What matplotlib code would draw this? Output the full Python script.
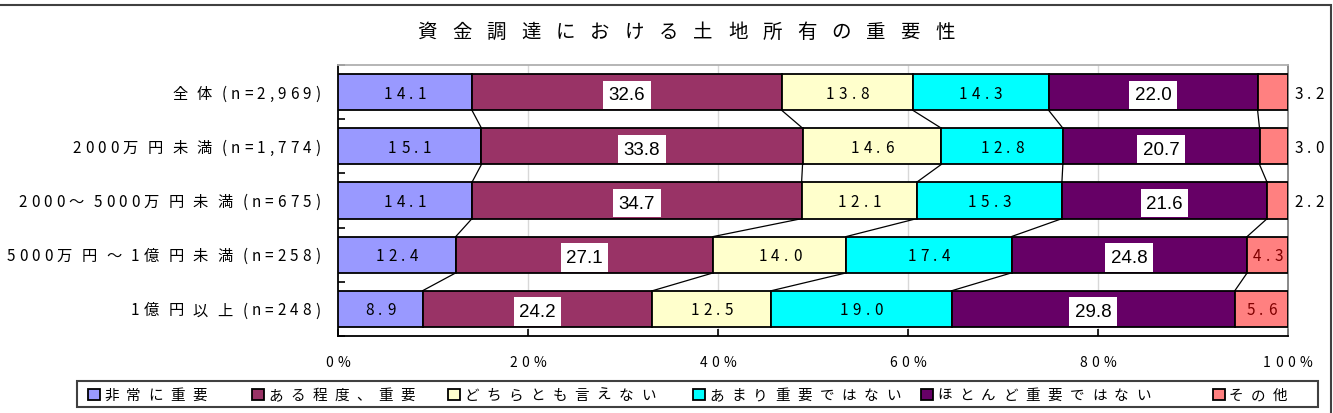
import matplotlib
matplotlib.use("Agg")
import matplotlib.pyplot as plt
from matplotlib.patches import Rectangle
from matplotlib.transforms import IdentityTransform
import numpy as np

plt.rcParams["font.family"] = ["Noto Sans CJK JP", "DejaVu Sans"]

TITLE = "資金調達における土地所有の重要性"
GROUPS = [
    "全体(n=2,969)",
    "2000万円未満(n=1,774)",
    "2000～5000万円未満(n=675)",
    "5000万円～1億円未満(n=258)",
    "1億円以上(n=248)",
]
SERIES = ["非常に重要", "ある程度、重要", "どちらとも言えない",
          "あまり重要ではない", "ほとんど重要ではない", "その他"]

VERY = [14.1, 15.1, 14.1, 12.4, 8.9]
SOMEWHAT = [32.6, 33.8, 34.7, 27.1, 24.2]
NEUTRAL = [13.8, 14.6, 12.1, 14.0, 12.5]
NOT_VERY = [14.3, 12.8, 15.3, 17.4, 19.0]
HARDLY = [22.0, 20.7, 21.6, 24.8, 29.8]
OTHER = [3.2, 3.0, 2.2, 4.3, 5.6]

X_TICKS = [0, 20, 40, 60, 80, 100]
COLORS = ["#9999FF", "#993366", "#FFFFCC", "#00FFFF", "#660066", "#FF8080"]
BOXED = [1, 4]  # series whose labels sit in white boxes

W, H, DPI = 1333, 414, 100
BAR_H = 0.67
LEGEND_X = [88, 252, 448, 693, 921, 1213]


def is_wide(ch):
    return ord(ch) >= 0x2E80


def char_widths(fig, s, size):
    r = fig.canvas.get_renderer()
    out = []
    for ch in s:
        t = fig.text(0, 0, ch, fontsize=size)
        out.append(t.get_window_extent(r).width)
        t.remove()
    return out


def spaced(fig, x, y, s, gap, size, ha="left", color="black", gap_wide=None):
    """Draw letter-spaced text; x, y are display pixels (y = vertical centre)."""
    if gap_wide is None:
        gap_wide = gap
    widths = char_widths(fig, s, size)
    gaps = [gap_wide if is_wide(ch) else gap for ch in s[:-1]] + [0]
    total = sum(widths) + sum(gaps)
    if ha == "center":
        x0 = x - total / 2
    elif ha == "right":
        x0 = x - total
    else:
        x0 = x
    base = y - size * DPI / 72 * 0.36
    for ch, w, g in zip(s, widths, gaps):
        fig.text(x0, base, ch, fontsize=size, color=color, va="baseline",
                 transform=IdentityTransform())
        x0 += w + g
    return x0


def main():
    data = np.array([VERY, SOMEWHAT, NEUTRAL, NOT_VERY, HARDLY, OTHER])
    cum = np.cumsum(data, axis=0) - data
    rows = np.arange(len(GROUPS))

    fig = plt.figure(figsize=(W / DPI, H / DPI), dpi=DPI)
    ax = fig.add_axes([338 / W, 1 - 337 / H, 950 / W, 271 / H])

    for k in range(len(SERIES)):
        ax.barh(rows, data[k], left=cum[k], height=BAR_H, color=COLORS[k],
                edgecolor="black", linewidth=1.3, zorder=3)

    # series lines between neighbouring bars
    ends = cum + data
    for i in range(len(GROUPS) - 1):
        for k in range(len(SERIES) - 1):
            ax.plot([ends[k, i], ends[k, i + 1]],
                    [i + BAR_H / 2, i + 1 - BAR_H / 2],
                    color="black", linewidth=0.9, zorder=2)

    ax.set_xlim(0, 100)
    ax.set_ylim(len(GROUPS) - 0.5, -0.5)
    ax.set_xticks(X_TICKS)
    ax.set_xticklabels([])
    ax.set_yticks(np.arange(-0.5, len(GROUPS)))
    ax.set_yticklabels([])
    ax.tick_params(axis="both", direction="in", length=5, width=1.2)
    for v in X_TICKS[1:-1]:
        ax.axvline(v, color="#D8D8D8", linewidth=1, zorder=1)
    ax.spines["left"].set_color("black")
    ax.spines["bottom"].set_color("black")
    ax.spines["top"].set_color("#B0B0B0")
    ax.spines["right"].set_color("#808080")
    for s in ax.spines.values():
        s.set_linewidth(1.3)

    fig.canvas.draw()
    to_px = ax.transData.transform

    # value labels
    for k in range(len(SERIES)):
        for i in rows:
            v = data[k, i]
            xc = cum[k, i] + v / 2
            txt = f"{v:.1f}"
            if k in BOXED:
                ax.text(xc, i + 0.05, txt, ha="center", va="center",
                        fontsize=13.5, family=["Liberation Sans", "DejaVu Sans"],
                        zorder=5,
                        bbox=dict(boxstyle="square,pad=0.3", facecolor="white",
                                  edgecolor="none"))
            elif k == len(SERIES) - 1 and v < 4:
                px, py = to_px((100, i))
                spaced(fig, px + 21, py, txt, 4, 11, ha="center")
            else:
                px, py = to_px((xc, i))
                col = "#800000" if k == len(SERIES) - 1 else "black"
                spaced(fig, px, py, txt, 4.5, 11, ha="center", color=col)

    # category labels
    for i, g in enumerate(GROUPS):
        _, py = to_px((0, i))
        spaced(fig, 320, py, g, 4, 11, ha="right", gap_wide=9.5)

    # x tick labels
    for t in X_TICKS:
        px, _ = to_px((t, 0))
        spaced(fig, px, H - 362, f"{t}%", 4.5, 10, ha="center")

    # title
    spaced(fig, 686, H - 31, TITLE, 15, 14, ha="center")

    # legend
    leg_y = H - 395
    fig.add_artist(Rectangle((77, H - 408), 1241, 26, transform=IdentityTransform(),
                             facecolor="white", edgecolor="#404040", linewidth=1.5))
    for k, name in enumerate(SERIES):
        x = LEGEND_X[k]
        fig.add_artist(Rectangle((x, leg_y - 5.5), 12, 11, transform=IdentityTransform(),
                                 facecolor=COLORS[k], edgecolor="black", linewidth=1.3))
        spaced(fig, x + 16, leg_y, name, 7.5, 10.5)

    # outer frame
    fig.add_artist(Rectangle((-5, -5), 1336, H - 6 + 5, transform=IdentityTransform(),
                             facecolor="none", edgecolor="#404040", linewidth=1.5))

    fig.savefig("out.png", dpi=DPI)
    plt.close(fig)


if __name__ == "__main__":
    main()
